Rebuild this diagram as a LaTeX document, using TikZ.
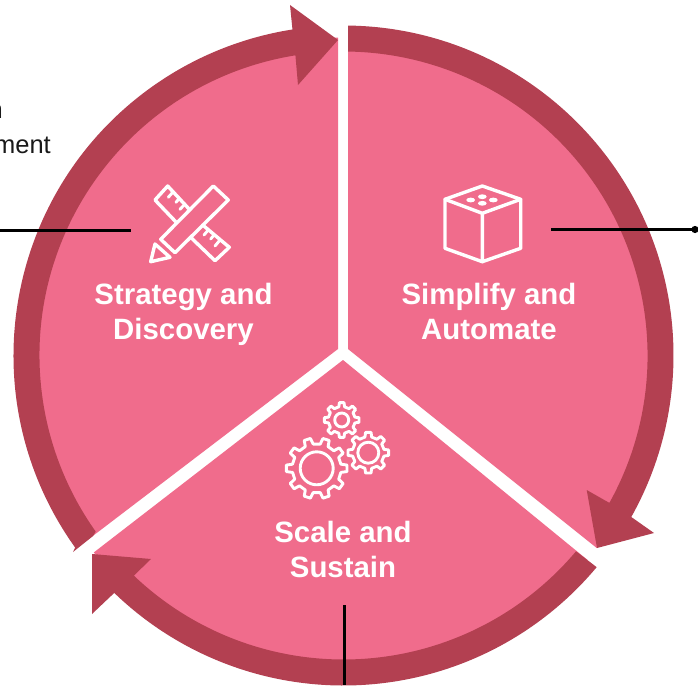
\documentclass[tikz,border=0pt]{standalone}
\usepackage{fontspec}
\setmainfont{Liberation Sans}
\usetikzlibrary{calc}
\definecolor{petal}{HTML}{F06C8C}
\definecolor{ringc}{HTML}{B34051}
\tikzset{
  ringpart/.style={fill=ringc,draw=none},
  petalfill/.style={fill=petal,draw=none},
  leader/.style={draw=black,line width=3pt},
  icon/.style={draw=white,line width=3.4pt,line join=round,line cap=round,fill=none},
  iconthin/.style={draw=white,line width=2.9pt,line join=round,line cap=round},
  label/.style={text=white,font=\bfseries\fontsize{29.4}{35}\selectfont,align=center,inner sep=0pt},
  clipped/.style={text=black!90,font=\fontsize{25.5}{30}\selectfont,inner sep=0pt,anchor=base east}
}
\newcommand{\gearicon}[5]{% x,y,Rout,Rroot,n
  \pgfmathsetmacro{\gstep}{360/#5}
  \pgfmathsetmacro{\gw}{\gstep*0.27}
  \pgfmathsetmacro{\gv}{\gstep*0.17}
  \draw[iconthin] ($(#1,#2)+(\gw:#4pt)$)
    \foreach \gi in {1,...,#5} {
      \pgfextra{\pgfmathsetmacro{\ga}{\gi*\gstep}}
      -- ($(#1,#2)+(\ga-\gw:#4pt)$) -- ($(#1,#2)+(\ga-\gv:#3pt)$)
      -- ($(#1,#2)+(\ga+\gv:#3pt)$) -- ($(#1,#2)+(\ga+\gw:#4pt)$)
    };
}
\begin{document}
\begin{tikzpicture}[x=1pt,y=1pt,yscale=-1]
\useasboundingbox (0,0) rectangle (698,685);
\fill[white] (0,0) rectangle (698,685);
\coordinate (c) at (343.5,355.5);

% petals
\begin{scope}
  \clip (338,0) -- (338,349) -- (60,561) -- (0,561) -- (0,0) -- cycle;
  \fill[petalfill] (c) circle[radius=318pt];
\end{scope}
\begin{scope}
  \clip (348,0) -- (348,349) -- (660,598.6) -- (698,598.6) -- (698,0) -- cycle;
  \fill[petalfill] (c) circle[radius=318pt];
\end{scope}
\begin{scope}
  \clip (343,360) -- (40,594) -- (40,685) -- (650,685) -- (650,611) -- cycle;
  \fill[petalfill] (c) circle[radius=318pt];
\end{scope}

% ring with arrowheads
\fill[ringpart] ($(c)+(-89.2:330pt)$) arc[start angle=-89.2,end angle=29.3,radius=330pt]
  -- (654,533) -- (597,548) -- (586.7,490)
  -- ($(c)+(29:304pt)$) arc[start angle=29,end angle=-89.15,radius=304pt] -- cycle;
\fill[ringpart] ($(c)+(39.9:330pt)$) arc[start angle=39.9,end angle=134,radius=330pt]
  -- (92,614) -- (92,554) -- (151,559)
  -- ($(c)+(133.6:304pt)$) arc[start angle=133.6,end angle=40.1,radius=304pt] -- cycle;
\fill[ringpart] (73,552) -- ($(c)+(144.4:330pt)$) arc[start angle=144.4,end angle=261.1,radius=330pt]
  -- (290,5) -- (338,40) -- (298,85)
  -- ($(c)+(260.9:304pt)$) arc[start angle=260.9,end angle=144.6,radius=304pt] -- (93,536) -- cycle;

% leader lines
\coordinate (la) at (0,230);
\coordinate (lb) at (131,230);
\draw[leader] (la) -- (lb);
\coordinate (ra) at (551,229.5);
\coordinate (rb) at (695,229.5);
\draw[leader] (ra) -- (rb);
\fill[black] (rb) circle[radius=3.6pt];
\coordinate (ba) at (344,605);
\coordinate (bb) at (344,685);
\draw[leader] (ba) -- (bb);

% labels
\node[label] (strategy) at (183.5,314) {Strategy and\\Discovery};
\node[label] (simplify) at (489,311) {Simplify and\\Automate};
\node[label] (scale) at (343,549) {Scale and\\Sustain};

% clipped text
\node[clipped] (tn) at (3,118) {n};
\node[clipped] (tm) at (51,153) {ment};

% ruler and pencil icon
\draw[icon] (213.3,186) -- (228.3,200) -- (175,252.7) -- (160.7,239.3) -- cycle;
\draw[icon] (155,244) -- (170,257.3) -- (150.7,261.7) -- cycle;
\draw[icon] (189.3,209.3) -- (167.7,186) -- (155,200) -- (175.7,221.7);
\draw[icon] (202.7,225) -- (229.3,247.3) -- (215,260.7) -- (191.7,238.3);
\draw[iconthin] (173.3,191.7) -- (168.3,197.3)
  (179.3,198.3) -- (176,202.3)
  (185,204) -- (180,209.3)
  (208.3,230) -- (204,235)
  (214,235) -- (210.7,239)
  (220,240) -- (215,246);

% cube icon
\draw[icon] (482.3,186) -- (520.7,199.3) -- (520.7,248.3) -- (482.3,261.7) -- (445,248.3) -- (445,199.3) -- cycle;
\draw[icon] (445,199.3) -- (482.3,213.3) -- (520.7,199.3) (482.3,213.3) -- (482.3,261.7);
\foreach \dx/\dy in {482.3/196.7,470.7/200,493.3/200,482.3/203.3}
  \fill[white] (\dx,\dy) ellipse[x radius=4.4pt,y radius=2.4pt];

% gears icon
\gearicon{341.7}{420}{17.5}{13.5}{8}
\draw[iconthin] (341.7,420) circle[radius=7pt];
\gearicon{368.3}{452.7}{20.5}{16}{8}
\draw[iconthin] (368.3,452.7) circle[radius=10.5pt];
\gearicon{316.7}{468.3}{30.5}{24.5}{10}
\draw[iconthin] (316.7,468.3) circle[radius=16.5pt];
\end{tikzpicture}
\end{document}
